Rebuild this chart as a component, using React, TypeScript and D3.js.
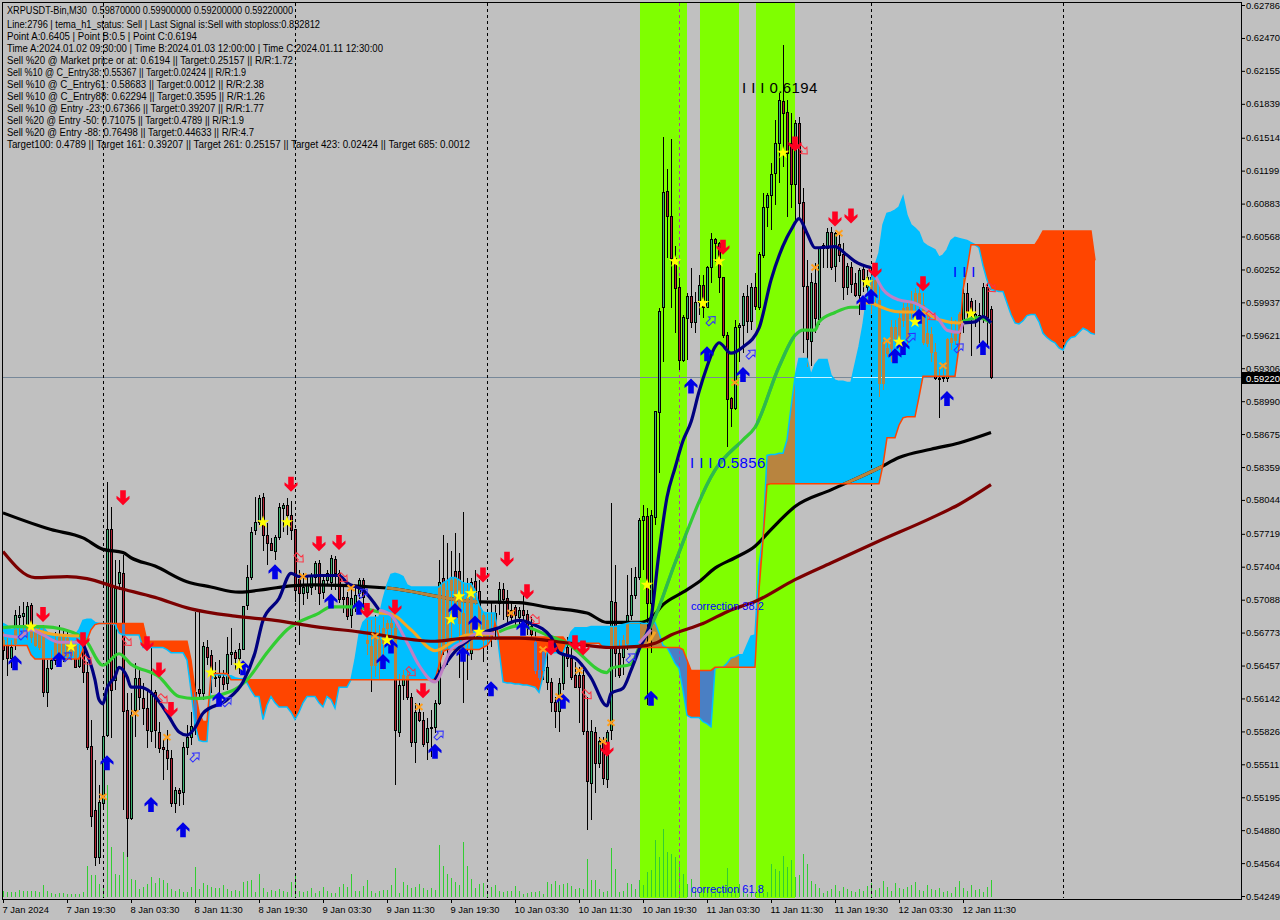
import React, { useEffect, useRef } from 'react';
import * as d3 from 'd3';

// all prices are in units of 0.0001, candles are [open, high, low, close]
type Bar = number[];

const jan7Bars: Bar[] = [
  [5670,5678,5651,5661],[5665,5672,5636,5653],[5653,5670,5643,5663],[5667,5699,5661,5694],[5692,5703,5670,5694],
  [5693,5707,5674,5696],[5680,5707,5670,5703],[5704,5706,5667,5673],[5680,5685,5663,5665],[5677,5682,5661,5663],
  [5677,5685,5616,5620],[5620,5651,5606,5643],[5643,5661,5641,5651],[5651,5678,5646,5670],[5653,5685,5649,5673],
  [5653,5682,5649,5675],[5655,5680,5651,5672],[5656,5670,5651,5667],[5665,5670,5643,5644],[5645,5665,5643,5654],
  [5667,5675,5629,5640],[5640,5649,5565,5568],[5569,5594,5491,5502],[5507,5555,5454,5462],[5462,5531,5456,5515],
];
const jan8Bars: Bar[] = [
  [5514,5613,5507,5578],[5579,5822,5577,5777],[5777,5798,5576,5622],[5632,5747,5622,5720],[5725,5747,5718,5735],
  [5734,5752,5507,5602],[5603,5619,5462,5500],[5500,5619,5498,5598],[5603,5648,5577,5634],[5634,5641,5603,5616],
  [5615,5629,5589,5605],[5605,5622,5567,5584],[5583,5667,5572,5618],[5620,5622,5567,5584],[5582,5592,5562,5567],
  [5568,5574,5536,5566],[5565,5584,5546,5557],[5557,5565,5510,5514],[5514,5529,5504,5526],[5526,5528,5511,5524],
  [5525,5572,5512,5568],[5568,5589,5560,5577],[5577,5601,5570,5588],[5587,5697,5579,5620],[5623,5697,5613,5619],
  [5619,5668,5613,5664],[5663,5670,5646,5654],[5656,5661,5619,5635],[5635,5649,5625,5634],[5635,5651,5616,5637],
  [5635,5641,5622,5628],[5629,5673,5622,5657],[5657,5682,5646,5659],[5659,5661,5641,5653],[5653,5667,5638,5662],
  [5662,5703,5661,5703],[5704,5742,5699,5731],[5731,5778,5728,5774],[5776,5807,5771,5783],[5783,5809,5780,5806],
  [5807,5811,5755,5771],[5771,5782,5742,5763],[5763,5768,5755,5756],[5755,5771,5747,5769],[5769,5801,5766,5798],
  [5797,5801,5774,5800],[5800,5806,5771,5790],[5790,5803,5766,5776],
];
const jan9Bars: Bar[] = [
  [5777,5777,5707,5718],[5729,5737,5665,5715],[5715,5734,5704,5721],[5716,5732,5709,5723],[5721,5734,5713,5732],
  [5731,5746,5718,5744],[5744,5747,5704,5715],[5716,5732,5709,5728],[5728,5737,5723,5734],[5726,5752,5718,5749],
  [5748,5751,5718,5734],[5734,5737,5706,5709],[5711,5721,5696,5709],[5711,5716,5689,5693],[5694,5720,5682,5710],
  [5704,5721,5697,5713],[5715,5730,5709,5728],[5728,5730,5699,5711],[5670,5689,5656,5667],[5646,5689,5620,5664],
  [5646,5694,5635,5677],[5651,5685,5632,5670],[5667,5692,5641,5682],[5682,5689,5665,5686],[5683,5696,5670,5686],
  [5682,5687,5531,5584],[5582,5638,5577,5627],[5627,5641,5613,5637],[5636,5641,5613,5616],[5616,5619,5568,5572],
  [5572,5610,5552,5601],[5601,5610,5592,5594],[5594,5601,5568,5571],[5572,5595,5555,5586],[5587,5603,5558,5586],
  [5587,5613,5581,5610],[5610,5747,5608,5726],[5730,5771,5656,5661],[5670,5763,5646,5718],[5718,5755,5670,5728],
  [5736,5773,5689,5704],[5736,5754,5634,5686],[5696,5793,5610,5663],[5667,5730,5632,5711],[5658,5730,5651,5726],
  [5727,5737,5704,5716],[5717,5728,5680,5682],[5670,5697,5649,5694],
];
const jan10Bars: Bar[] = [
  [5673,5696,5661,5689],[5672,5707,5663,5678],[5683,5704,5670,5696],[5706,5726,5694,5719],[5719,5725,5689,5709],
  [5710,5718,5685,5693],[5699,5706,5687,5692],[5702,5704,5685,5694],[5692,5702,5685,5699],[5699,5715,5687,5694],
  [5695,5699,5675,5683],[5684,5692,5670,5676],[5668,5680,5638,5641],[5641,5651,5632,5635],[5641,5661,5632,5659],
  [5630,5661,5622,5644],[5630,5634,5601,5611],[5611,5616,5586,5602],[5602,5634,5582,5629],[5629,5661,5622,5656],
  [5663,5673,5644,5653],[5653,5665,5632,5635],[5637,5649,5624,5625],[5637,5644,5591,5625],[5637,5641,5579,5583],
  [5583,5616,5488,5535],[5533,5594,5498,5583],[5582,5587,5524,5552],[5552,5577,5548,5573],[5572,5577,5531,5538],
  [5537,5584,5528,5582],[5584,5801,5574,5708],[5707,5742,5635,5658],[5658,5670,5634,5637],[5654,5675,5637,5670],
  [5667,5732,5661,5694],[5694,5739,5689,5713],[5713,5740,5709,5731],[5731,5787,5728,5785],[5785,5800,5737,5789],
  [5789,5797,5608,5706],[5706,5795,5658,5790],[5788,5890,5780,5890],[5889,5988,5830,5985],[5989,6152,5937,6099],
  [6100,6121,6036,6076],[6076,6150,5988,6036],[6036,6048,5964,6007],
];
const jan11Bars: Bar[] = [
  [6008,6017,5929,5938],[5938,5982,5937,5980],[5979,6003,5938,6000],[6000,6027,5969,5975],[5975,6004,5964,5994],
  [5994,6020,5982,6010],[6010,6020,5979,5989],[5989,6029,5988,6028],[6028,6060,6012,6054],[6054,6055,6032,6051],
  [6051,6052,6003,6018],[6018,6018,5960,5962],[5962,5965,5855,5901],[5902,5903,5874,5892],[5892,5977,5891,5970],
  [5970,5974,5937,5972],[5972,6003,5945,6000],[6000,6010,5964,5976],[5976,6012,5967,6008],[6008,6022,5986,5990],
  [5989,6042,5986,6040],[6039,6098,6036,6085],[6085,6098,6066,6097],[6097,6127,6063,6117],[6118,6168,6087,6146],
  [6146,6194,6108,6188],[6187,6240,6123,6175],[6176,6188,6075,6137],[6146,6175,6084,6107],[6107,6168,6073,6166],
  [6166,6171,6073,6089],[6090,6103,5945,6009],[6009,6034,5932,5959],[5957,6022,5933,6013],[6012,6031,5964,5979],
  [5978,6047,5972,6046],[6046,6051,6027,6049],[6046,6065,6027,6061],[6061,6066,6025,6028],[6029,6061,6013,6060],
  [6050,6058,6032,6039],[6040,6051,5996,6008],[6008,6031,6001,6029],[6028,6032,6003,6011],[6012,6022,5999,6001],
  [6001,6027,5982,6025],[6026,6029,6004,6016],[6008,6025,5996,6018],
];
const jan12Bars: Bar[] = [
  [6018,6025,5983,6001],[6015,6015,5989,6001],[5996,6012,5903,5916],[5916,5960,5910,5956],[5950,5957,5941,5945],
  [5950,5977,5937,5970],[5960,5977,5955,5970],[5955,5984,5948,5979],[5977,5993,5970,5988],[5960,5993,5953,5989],
  [5986,6005,5977,5993],[5993,6007,5979,6003],[6003,6007,5983,5991],[5991,6003,5953,5956],[5955,5984,5951,5964],
  [5963,5970,5937,5946],[5946,5955,5919,5921],[5921,5932,5883,5920],[5921,5936,5917,5922],[5921,5960,5917,5959],
  [5956,5980,5948,5960],[5958,5977,5953,5964],[5964,5984,5958,5983],[5974,6017,5964,6003],[6003,6012,5974,5984],
  [5995,5998,5942,5982],[5980,5996,5970,5983],[5979,5993,5955,5982],[5980,6012,5974,6008],[6008,6012,5951,5980],
  [5987,5990,5920,5922],
];
const bars: Bar[] = [...jan7Bars, ...jan8Bars, ...jan9Bars, ...jan10Bars, ...jan11Bars, ...jan12Bars];

const volumes = [
  6,5,5,5,7,6,6,6,6,5, 12,6,4,3,4,4,3,3,3,3, 5,31,22,22,13,12,112,50,23,22, 45,45,18,17,8,10,13,20,14,19,
  17,14,8,6,8,5,5,10,30,8, 14,12,10,9,9,12,8,6,7,6, 15,16,17,5,23,9,5,7,6,8, 6,5,15,23,6,5,6,9,4,6,
  10,6,4,4,10,13,10,23,6,6, 11,17,6,4,6,7,7,12,29,4, 15,12,9,10,13,9,7,9,7,52, 31,23,19,15,12,55,31,18,9,13,
  14,6,10,12,6,5,6,6,11,6, 3,4,5,5,6,3,15,13,16,12, 13,14,11,8,9,8,38,17,17,8, 5,6,49,28,5,6,14,13,8,17,
  12,25,27,57,40,68,45,43,40,33, 23,13,18,9,5,4,4,4,5,6, 8,29,5,6,13,6,3,4,4,8, 4,5,33,28,26,41,30,37,20,22,
  43,33,16,13,9,4,6,8,12,6, 10,8,6,5,8,6,11,14,7,9, 16,10,6,14,9,8,10,12,15,7, 6,12,8,7,9,5,6,4,10,16,
  9,6,12,7,8,5,10,17,
];

// ichimoku spans run 26 bars past the last candle
const spanA = [
  5686,5684,5680,5681,5682,5683,5683,5683,5683,5683,5683,5678,5675,5675,5675,5675,5675,5675,5675,5680,
  5689,5690,5690,5687,5686,5686,5686,5686,5685,5677,5675,5675,5675,5675,5675,5663,5663,5663,5663,5663,
  5663,5661,5658,5658,5658,5658,5651,5622,5589,5574,5573,5573,5632,5637,5637,5637,5636,5636,5634,5633,
  5633,5629,5622,5616,5616,5594,5608,5616,5610,5606,5606,5606,5601,5594,5601,5610,5616,5616,5616,5610,
  5606,5616,5613,5605,5625,5625,5625,5632,5651,5675,5687,5691,5692,5692,5692,5709,5723,5733,5734,5733,
  5731,5723,5721,5721,5721,5721,5721,5721,5721,5721,5725,5727,5730,5730,5728,5725,5724,5724,5718,5704,
  5697,5696,5696,5696,5661,5630,5629,5629,5628,5628,5627,5627,5626,5625,5620,5635,5658,5658,5658,5658,
  5658,5667,5678,5682,5682,5682,5682,5683,5683,5683,5683,5683,5683,5683,5684,5685,5686,5687,5687,5687,
  5686,5686,5686,5687,5677,5665,5663,5656,5648,5643,5622,5598,5596,5596,5596,5592,5590,5587,5643,5644,
  5644,5648,5653,5654,5656,5656,5665,5674,5675,5742,5769,5847,5848,5848,5849,5849,5862,5893,5922,5940,
  5940,5940,5924,5934,5939,5939,5939,5924,5919,5918,5918,5917,5917,5934,5951,5972,6000,6015,6029,6041,
  6068,6079,6080,6082,6085,6095,6077,6068,6065,6061,6051,6048,6046,6044,6037,6039,6044,6053,6056,6055,
  6054,6053,6051,6049,6046,6029,6015,6006,6005,6004,6004,5993,5982,5974,5973,5976,5981,5982,5982,5975,
  5964,5960,5957,5955,5950,5948,5956,5960,5961,5965,5969,5967,5964,5963,
];
const spanB = [
  5665,5665,5665,5665,5665,5665,5665,5656,5652,5652,5652,5652,5652,5652,5652,5652,5652,5652,5652,5652,
  5661,5670,5680,5685,5686,5686,5686,5686,5686,5686,5686,5686,5686,5686,5686,5686,5669,5669,5669,5669,
  5669,5669,5669,5669,5669,5669,5669,5651,5622,5601,5592,5592,5637,5638,5638,5638,5638,5632,5632,5632,
  5632,5632,5632,5632,5632,5632,5632,5632,5632,5632,5632,5632,5632,5632,5632,5632,5632,5632,5632,5632,
  5632,5632,5632,5632,5632,5632,5632,5632,5632,5632,5632,5632,5632,5632,5632,5632,5632,5632,5632,5632,
  5632,5632,5632,5632,5632,5632,5632,5632,5632,5646,5659,5661,5661,5661,5661,5661,5661,5661,5661,5661,
  5663,5665,5670,5686,5673,5673,5673,5673,5673,5673,5673,5673,5673,5673,5673,5673,5673,5673,5673,5673,
  5673,5668,5667,5667,5667,5667,5667,5667,5667,5667,5663,5663,5663,5663,5663,5663,5663,5663,5663,5663,
  5663,5663,5663,5663,5663,5663,5663,5663,5663,5663,5661,5651,5641,5641,5641,5641,5641,5641,5644,5644,
  5644,5644,5644,5644,5644,5644,5644,5644,5644,5718,5766,5819,5820,5820,5820,5820,5820,5820,5820,5820,
  5820,5820,5820,5820,5820,5820,5820,5820,5820,5820,5820,5820,5820,5820,5820,5820,5820,5820,5820,5820,
  5838,5864,5864,5864,5876,5883,5884,5884,5884,5903,5923,5923,5923,5923,5923,5923,5923,5923,5923,5951,
  6006,6025,6049,6049,6049,6049,6049,6049,6049,6049,6049,6049,6049,6049,6049,6049,6049,6049,6049,6055,
  6062,6062,6062,6062,6062,6062,6062,6062,6062,6062,6062,6062,6062,6034,
];

// moving averages, [bar, price], null breaks the line
type Pt = [number, number] | null;
const blackMa: Pt[] = [[0,5792],[12,5776],[20,5768],[25,5757],[30,5754],[32,5749],[38,5741],[46,5726],[52,5721],[59,5716],[66,5719],[72,5722],[78,5723],[96,5720],[118,5707],[129,5706],[137,5701],[146,5696],[151,5687],[159,5687],[162,5691],[165,5704],[170,5716],[174,5726],[178,5739],[183,5749],[188,5760],[192,5776],[198,5798],[207,5814],[219,5835],[224,5845],[232,5853],[239,5859],[247,5869]];
const redMa: Pt[] = [[0,5755],[8,5730],[16,5731],[21,5729],[28,5721],[38,5711],[47,5700],[58,5693],[68,5689],[78,5683],[89,5678],[108,5669],[116,5672],[129,5672],[142,5667],[152,5663],[159,5664],[163,5667],[167,5675],[175,5686],[182,5699],[188,5707],[198,5728],[207,5744],[219,5765],[232,5787],[239,5800],[247,5819]];
const greenMa: Pt[] = [[0,5682],[4,5683],[10,5683],[20,5673],[25,5646],[29,5657],[32,5647],[39,5635],[44,5616],[48,5614],[57,5621],[61,5632],[66,5658],[71,5680],[79,5696],[82,5702],[87,5702],[94,5697],null,
  [124,5678],[129,5684],[136,5675],[141,5667],[151,5639],[152,5643],[157,5647],[159,5663],[163,5692],[168,5744],[178,5833],[185,5862],[188,5874],[194,5932],[198,5962],[200,5967],[203,5967],[204,5975],[208,5984],[212,5989],[214,5989],null,
  [239,5974],[244,5979],[247,5974]];
const navyMa: Pt[] = [[20,5667],[23,5632],[24,5613],[25,5609],[26,5624],[28,5635],[29,5644],[31,5635],[32,5625],[34,5625],[37,5620],[38,5616],[41,5600],[44,5582],[46,5579],[48,5586],[50,5600],[56,5613],[60,5630],[63,5658],[65,5689],[69,5710],[72,5734],[74,5731],[79,5732],[84,5732],[86,5725],[90,5718],[94,5699],null,
  [108,5632],[113,5659],[118,5674],[124,5682],[129,5689],[132,5686],[137,5673],[139,5658],[143,5653],[147,5634],[151,5607],[152,5619],[155,5624],[157,5641],[159,5661],[162,5691],[164,5754],[166,5807],[168,5835],[170,5861],[172,5879],[174,5908],[176,5932],[178,5951],[179,5955],[182,5945],[185,5951],[189,5969],[192,6015],[196,6056],[197,6063],[199,6074],[201,6060],[203,6046],[208,6047],[211,6039],[213,6033],[217,6027],null,
  [240,5974],[243,5975],[245,5980],[247,5974]];
const orangeMa: Pt[] = [[8,5680],[12,5676],[19,5674],null,
  [94,5696],[97,5695],[102,5680],[108,5660],[113,5670],[116,5675],[123,5676],null,
  [161,5665],[163,5678],null,
  [214,5993],[217,5993],[219,5990],[223,5985],[230,5984],[234,5977],[239,5974],[240,5975]];
const pinkMa: Pt[] = [[0,5675],[4,5673],[7,5680],[10,5675],[14,5668],[19,5668],null,
  [94,5699],[97,5694],[101,5668],[104,5646],[108,5630],[112,5661],[115,5668],[119,5677],[123,5676],null,
  [159,5667],[162,5680],null,
  [218,6020],[220,6006],[224,5996],[228,5993],[230,5989],[234,5977],[236,5967],[239,5965],[240,5974]];

// signals, [bar, price]
const upArrows = [[3,5648],[14,5651],[26,5552],[37,5512],[45,5488],[54,5613],[60,5643],[68,5735],[82,5707],[89,5701],[95,5649],[97,5664],[108,5563],[113,5698],[115,5656],[118,5686],[122,5623],[130,5681],[140,5611],[162,5614],[172,5913],[176,5944],[185,5924],[215,5993],[217,5999],[223,5942],[225,5950],[229,5980],[236,5901],[245,5950]];
const downArrows = [[10,5695],[20,5671],[30,5807],[36,5667],[39,5642],[42,5604],[72,5820],[79,5763],[84,5764],[91,5699],[98,5702],[105,5622],[120,5733],[126,5748],[131,5717],[137,5663],[143,5668],[145,5663],[151,5566],[180,6047],[198,6146],[208,6074],[212,6077],[218,6025],[230,6012]];
const hollowUp = [[5,5675],[16,5654],[48,5558],[56,5611],[90,5715],[109,5579],[157,5653],[177,5976],[187,5944],[227,5960],[239,5950]];
const hollowDown = [[21,5651],[31,5669],[40,5614],[74,5749],[85,5730],[102,5640],[133,5690],[146,5618],[200,6140],[232,5981],[247,6008]];
const stars = [[7,5683],[17,5664],[52,5639],[59,5646],[65,5783],[71,5783],[96,5670],[112,5690],[114,5712],[117,5715],[119,5678],[161,5723],[168,6033],[175,5993],[179,6033],[195,6137],[216,6013],[224,5956],[228,5975],[242,5983]];
const crosses = [[25,5520],[33,5600],[41,5577],[75,5731],[87,5720],[93,5674],[104,5606],[127,5696],[135,5661],[139,5616],[144,5641],[150,5573],[152,5591],[183,5917],[203,6027],[209,6060],[221,5957],[235,5933]];

const priceTicks = [0.62786,0.6247,0.62155,0.61839,0.61514,0.61199,0.60883,0.60568,0.60252,0.59937,0.59621,0.59306,0.5899,0.58675,0.58359,0.58044,0.57719,0.57404,0.57088,0.56773,0.56457,0.56142,0.55826,0.55511,0.55195,0.5488,0.54564,0.54249];
const timeLabels = ['7 Jan 2024','7 Jan 19:30','8 Jan 03:30','8 Jan 11:30','8 Jan 19:30','9 Jan 03:30','9 Jan 11:30','9 Jan 19:30','10 Jan 03:30','10 Jan 11:30','10 Jan 19:30','11 Jan 03:30','11 Jan 11:30','11 Jan 19:30','12 Jan 03:30','12 Jan 11:30'];
const dayStarts = [25, 73, 121, 169, 217, 265];
const sessions = [[159.25, 171], [174.25, 184], [188.25, 198]];
const infoLines = [
  'XRPUSDT-Bin,M30  0.59870000 0.59900000 0.59200000 0.59220000',
  'Line:2796 | tema_h1_status: Sell | Last Signal is:Sell with stoploss:0.832812',
  'Point A:0.6405 | Point B:0.5 | Point C:0.6194',
  'Time A:2024.01.02 09:30:00 | Time B:2024.01.03 12:00:00 | Time C:2024.01.11 12:30:00',
  'Sell %20 @ Market price or at: 0.6194 || Target:0.25157 || R/R:1.72',
  'Sell %10 @ C_Entry38: 0.55367 || Target:0.02424 || R/R:1.9',
  'Sell %10 @ C_Entry61: 0.58683 || Target:0.0012 || R/R:2.38',
  'Sell %10 @ C_Entry88: 0.62294 || Target:0.3595 || R/R:1.26',
  'Sell %10 @ Entry -23: 0.67366 || Target:0.39207 || R/R:1.77',
  'Sell %20 @ Entry -50: 0.71075 || Target:0.4789 || R/R:1.9',
  'Sell %20 @ Entry -88: 0.76498 || Target:0.44633 || R/R:4.7',
  'Target100: 0.4789 || Target 161: 0.39207 || Target 261: 0.25157 || Target 423: 0.02424 || Target 685: 0.0012',
];
const infoWidths = [286, 313, 190, 376, 286, 239, 257, 258, 257, 237, 247, 463];

const FONT = '"Liberation Sans", sans-serif';
const x = d3.scaleLinear().domain([0, 247]).range([3, 991]);
const y = d3.scaleLinear().domain([6278.6, 5424.9]).range([5, 896]);
const volY = d3.scaleLinear().domain([0, 100]).range([897, 797]);
const allBars = d3.range(spanA.length);

const line = d3.line<Pt>().defined(d => d !== null).x(d => x(d![0])).y(d => y(d![1])).curve(d3.curveMonotoneX);
const blueArea = d3.area<number>().x(i => x(i)).y0(i => y(spanB[i])).y1(i => y(Math.max(spanA[i], spanB[i])))(allBars)!;
const redArea = d3.area<number>().x(i => x(i)).y0(i => y(spanA[i])).y1(i => y(Math.max(spanA[i], spanB[i])))(allBars)!;
const spanLine = (s: number[]) => d3.line<number>().x(i => x(i)).y(i => y(s[i]))(allBars)!;

const UP = 'M0,-8L6.5,-1.5L6.5,1.5L2.8,-1.4L2.8,7L-2.8,7L-2.8,-1.4L-6.5,1.5L-6.5,-1.5Z';
const HOLLOW = 'M0,-6L4.5,-1L2,-1L2,5L-2,5L-2,-1L-4.5,-1Z';

const Candles = ({ wick, up, down }: { wick?: string; up?: string; down?: string }) => (
  <g shapeRendering="crispEdges">
    {bars.map((b, i) => {
      const [o, h, l, c] = b;
      const px = Math.round(x(i));
      const top = Math.round(y(Math.max(o, c)));
      const bottom = Math.round(y(Math.min(o, c)));
      return (
        <g key={i}>
          <line x1={px + 0.5} x2={px + 0.5} y1={y(h)} y2={y(l)} stroke={wick || '#000'} />
          <rect x={px - 0.5} y={top + 0.5} width={2} height={Math.max(bottom - top, 1)}
            fill={c >= o ? up || '#3cb371' : down || '#b22234'} stroke={wick || '#000'} />
        </g>
      );
    })}
  </g>
);

const Ma = ({ data, color, width = 3.2 }: { data: Pt[]; color: string; width?: number }) => (
  <path d={line(data)!} fill="none" stroke={color} strokeWidth={width} strokeLinejoin="round" />
);

const App = () => {
  const rightAxis = useRef<SVGGElement>(null);
  const bottomAxis = useRef<SVGGElement>(null);

  useEffect(() => {
    const r = d3.select(rightAxis.current!);
    r.call(d3.axisRight(y).tickValues(priceTicks.map(p => p * 10000)).tickSize(4).tickPadding(1)
      .tickFormat(d => ((d as number) / 10000).toFixed(5)));
    r.select('.domain').remove();
    r.selectAll('text').attr('font-family', FONT).attr('font-size', 9.4).attr('fill', '#000');
    r.selectAll('line').attr('stroke', '#000');

    const b = d3.select(bottomAxis.current!);
    b.call(d3.axisBottom(x).tickValues(timeLabels.map((_, i) => i * 16)).tickSize(4).tickPadding(3)
      .tickFormat((_, i) => timeLabels[i]));
    b.select('.domain').remove();
    b.selectAll('text').attr('font-family', FONT).attr('font-size', 9.4).attr('fill', '#000')
      .attr('text-anchor', 'start').attr('dx', -1);
    b.selectAll('line').attr('stroke', '#000');
  }, []);

  const gaps = [[-1, sessions[0][0]], [sessions[0][1], sessions[1][0]], [sessions[1][1], sessions[2][0]], [sessions[2][1], 300]];

  return (
    <svg width={1280} height={920} style={{ position: 'absolute', left: 0, top: 0, background: '#c0c0c0' }}>
      <defs>
        <clipPath id="blue"><path d={blueArea} /></clipPath>
        <clipPath id="red"><path d={redArea} /></clipPath>
        <clipPath id="bands">
          {sessions.map((s, i) => <rect key={i} x={x(s[0])} y={0} width={x(s[1]) - x(s[0])} height={920} />)}
        </clipPath>
        <clipPath id="gaps">
          {gaps.map((s, i) => <rect key={i} x={x(s[0])} y={0} width={x(s[1]) - x(s[0])} height={920} />)}
        </clipPath>
        <clipPath id="plot"><rect x={3} y={3} width={1238} height={895} /></clipPath>
      </defs>

      <g clipPath="url(#plot)">
        {sessions.map((s, i) => (
          <rect key={i} x={x(s[0])} y={3} width={x(s[1]) - x(s[0])} height={895} fill="#7fff00" />
        ))}

        <g shapeRendering="crispEdges">
          {volumes.map((v, i) => (
            <line key={i} x1={Math.round(x(i)) + 0.5} x2={Math.round(x(i)) + 0.5} y1={volY(0)} y2={volY(v)} stroke="#32cd32" />
          ))}
        </g>

        <path d={blueArea} fill="#00bfff" />
        <path d={redArea} fill="#ff4500" />
        <g clipPath="url(#bands)">
          <path d={blueArea} fill="#b8843f" />
          <path d={redArea} fill="#4a7fc4" />
        </g>

        <g shapeRendering="crispEdges">
          <line x1={3} x2={1241} y1={y(5922) + 0.5} y2={y(5922) + 0.5} stroke="#778899" />
          {dayStarts.map((d, i) => (
            <line key={i} x1={x(d) + 0.5} x2={x(d) + 0.5} y1={3} y2={898} stroke="#000" strokeDasharray="3,3" />
          ))}
          <g clipPath="url(#bands)">
            {dayStarts.map((d, i) => (
              <line key={i} x1={x(d) + 0.5} x2={x(d) + 0.5} y1={3} y2={898} stroke="#b040a0" strokeDasharray="3,3" />
            ))}
          </g>
          <g clipPath="url(#blue)">
            <line x1={3} x2={1241} y1={y(5922) + 0.5} y2={y(5922) + 0.5} stroke="#c8f4ff" />
          </g>
        </g>

        <Candles />
        <Ma data={blackMa} color="#000" />
        <g clipPath="url(#gaps)">
          <g clipPath="url(#blue)">
            <Candles wick="#b8843f" up="#b8843f" down="#b8843f" />
            <Ma data={blackMa} color="#b8843f" />
          </g>
          <g clipPath="url(#red)">
            <Candles wick="#4a7fc4" up="#4a7fc4" down="#4a7fc4" />
          </g>
        </g>

        <path d={spanLine(spanA)} fill="none" stroke="#00bfff" strokeWidth={1.5} />
        <path d={spanLine(spanB)} fill="none" stroke="#ff4500" strokeWidth={1.5} />

        <Ma data={greenMa} color="#32cd32" />
        <g clipPath="url(#bands)"><Ma data={greenMa} color="#2fb84f" /></g>
        <Ma data={navyMa} color="#000080" />
        <Ma data={orangeMa} color="#f5a623" width={3} />
        <Ma data={pinkMa} color="#c080c4" width={3} />
        <Ma data={redMa} color="#7b0000" />

        {hollowUp.map((m, i) => (
          <path key={i} d={HOLLOW} fill="none" stroke="#3030ff" transform={`translate(${x(m[0])},${y(m[1])}) rotate(45)`} />
        ))}
        {hollowDown.map((m, i) => (
          <path key={i} d={HOLLOW} fill="none" stroke="#ff3040" transform={`translate(${x(m[0])},${y(m[1])}) rotate(135)`} />
        ))}
        {upArrows.map((m, i) => (
          <path key={i} d={UP} fill="#0000e6" transform={`translate(${x(m[0])},${y(m[1])})`} />
        ))}
        {downArrows.map((m, i) => (
          <path key={i} d={UP} fill="#ff0020" transform={`translate(${x(m[0])},${y(m[1])}) rotate(180)`} />
        ))}
        {crosses.map((m, i) => (
          <path key={i} d="M-3.5,-3L3.5,3M-3.5,3L3.5,-3" stroke="#ff9f1c" strokeWidth={2}
            transform={`translate(${x(m[0])},${y(m[1])})`} />
        ))}
        {stars.map((m, i) => (
          <path key={i} d={d3.symbol(d3.symbolStar, 50)()!} fill="#ffff00"
            transform={`translate(${x(m[0])},${y(m[1])})`} />
        ))}

        <g fontFamily={FONT}>
          <text x={742} y={93} fontSize={15} letterSpacing={0.4} fill="#000">I I I 0.6194</text>
          <text x={690} y={468} fontSize={15} letterSpacing={0.4} fill="#0000ff">I I I 0.5856</text>
          <text x={953} y={277} fontSize={15} letterSpacing={0.4} fill="#0000ff">I I I</text>
          <text x={691} y={610} fontSize={11} fill="#0000ff">correction 38.2</text>
          <text x={691} y={893} fontSize={11} fill="#0000ff">correction 61.8</text>
        </g>

        <g fontFamily={FONT} fontSize={10} fill="#000">
          {infoLines.map((t, i) => (
            <text key={i} x={7} y={i === 0 ? 14 : 16 + i * 12} xmlSpace="preserve"
              textLength={infoWidths[i]} lengthAdjust="spacingAndGlyphs">{t}</text>
          ))}
        </g>
      </g>

      <rect x={2.5} y={2.5} width={1238.5} height={896.5} fill="none" stroke="#000" shapeRendering="crispEdges" />
      <g ref={rightAxis} transform="translate(1241,0)" />
      <g ref={bottomAxis} transform="translate(0,899)" />

      <rect x={1242} y={372} width={38} height={12} fill="#000" />
      <text x={1246} y={381.5} fontFamily={FONT} fontSize={9.4} fill="#fff">0.59220</text>
    </svg>
  );
};

export default App;
